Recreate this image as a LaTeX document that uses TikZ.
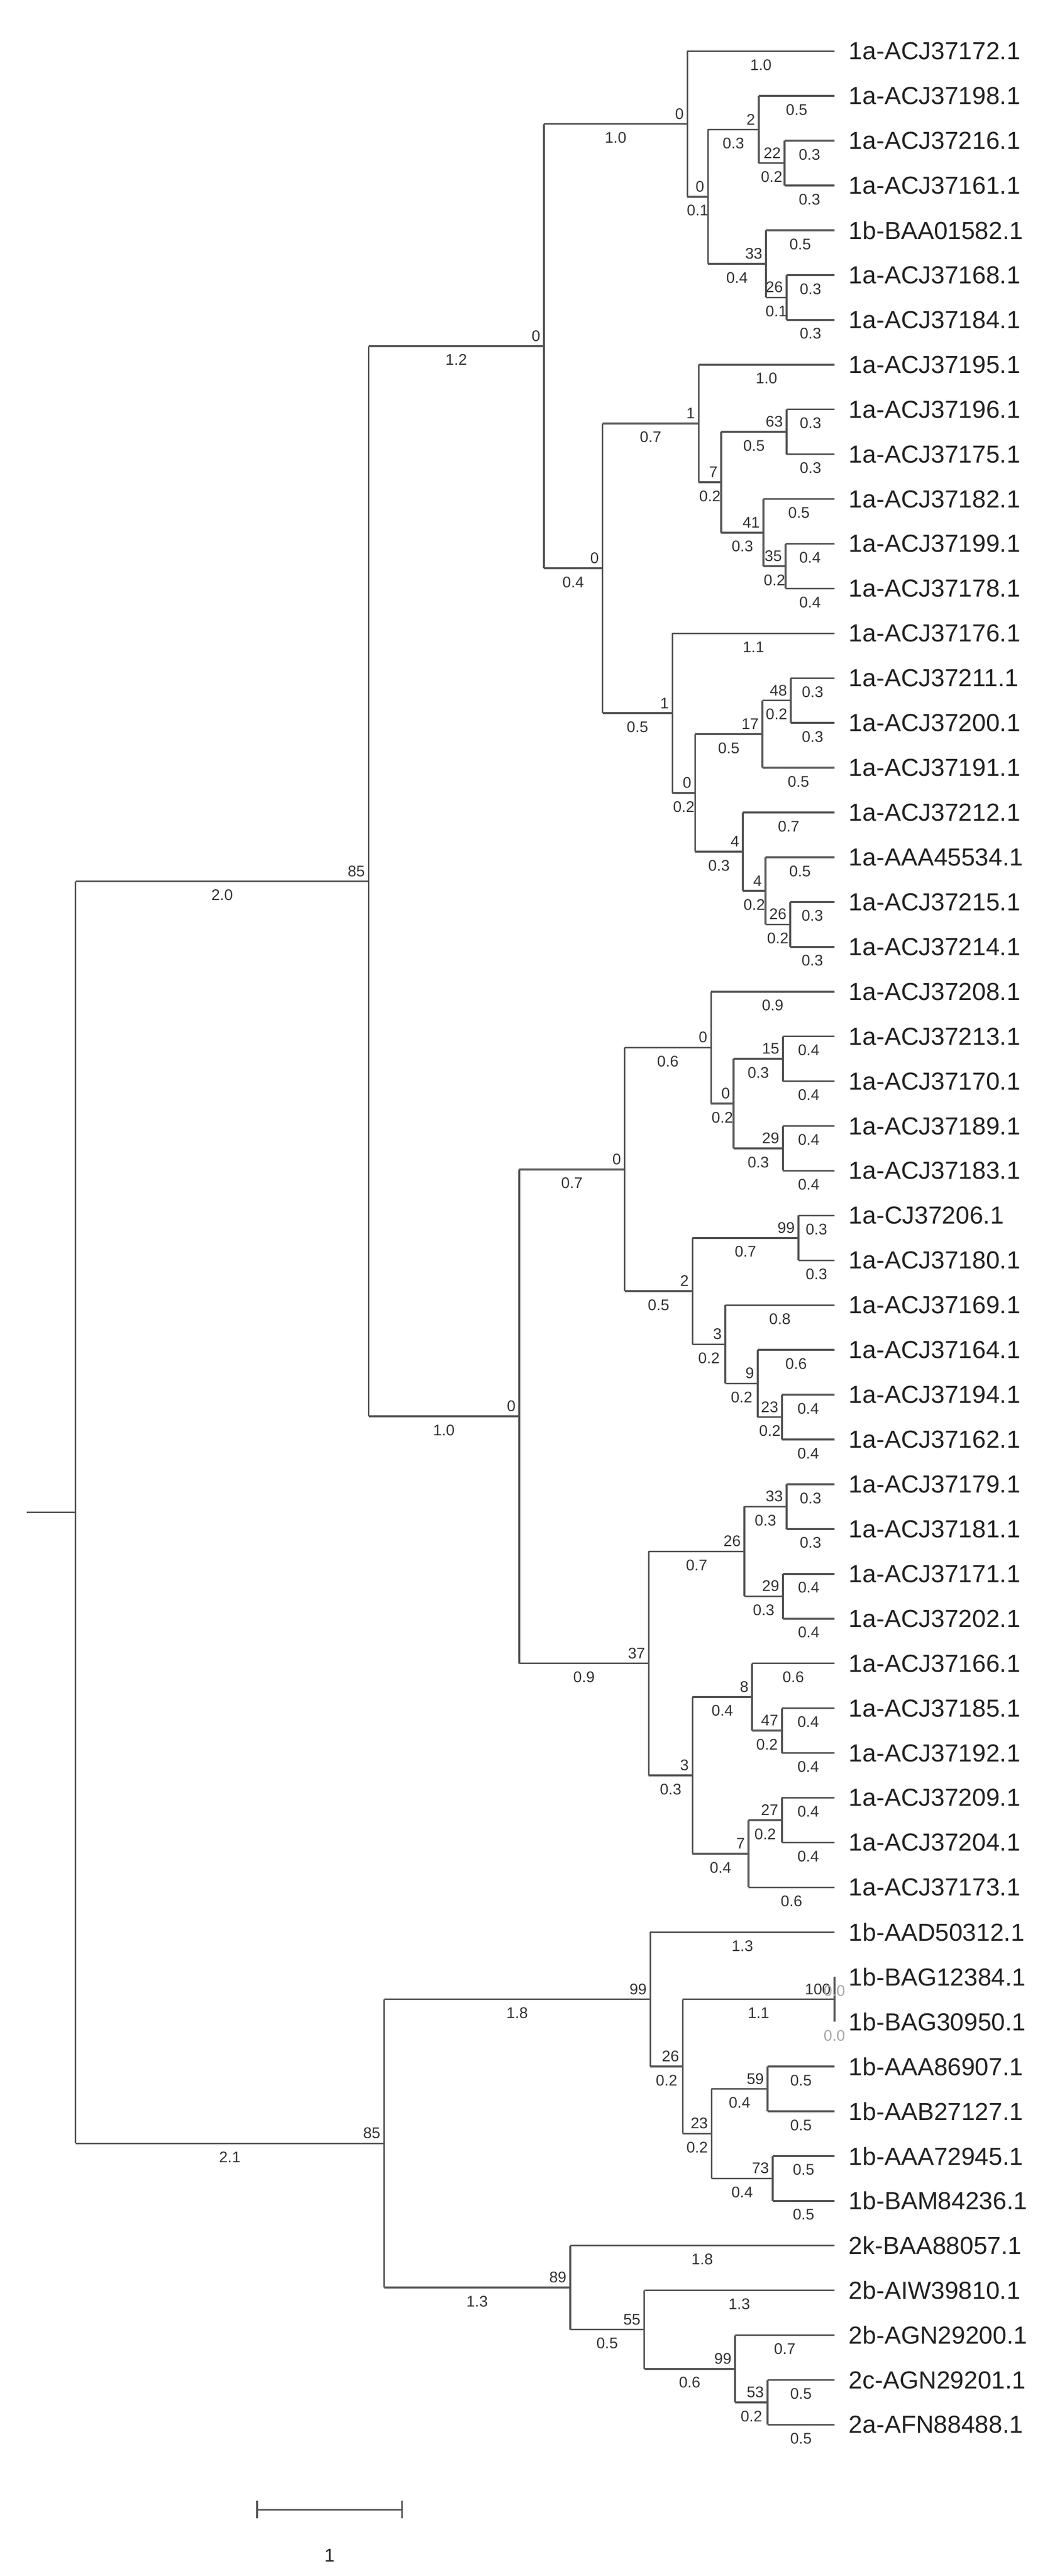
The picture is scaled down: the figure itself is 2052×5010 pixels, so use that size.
\documentclass[tikz,border=0pt]{standalone}
\usepackage{fontspec}
\setmainfont{Liberation Sans}
\usetikzlibrary{calc}
\definecolor{ln}{HTML}{555555}
\definecolor{tx}{HTML}{222222}
\definecolor{nm}{HTML}{333333}
\tikzset{
  br/.style={draw=ln,line width=3.5pt},
  lbl/.style={font=\fontsize{48}{50}\selectfont,text=tx,inner sep=0pt,anchor=west},
  bsl/.style={font=\fontsize{30}{32}\selectfont,text=nm,inner sep=0pt,anchor=south east},
  lenl/.style={font=\fontsize{30}{32}\selectfont,text=nm,inner sep=0pt,anchor=north},
  grayl/.style={lenl,text=gray!70}
}
\newcommand{\leafnode}[2]{\coordinate (L#1) at (1623pt,{-(99.5+87.1*(#1-1))*1pt});
  \node[lbl] (T#1) at ([xshift=28pt]L#1) {#2};}
\newcommand{\inode}[4]{\path let \p1=(#3), \p2=(#4) in coordinate (#1) at (#2pt,{0.5*\y1+0.5*\y2});
  \draw[br] (#1|-#3) -- (#1|-#4);}
\newcommand{\brn}[5][lenl]{\draw[br] (#2|-#3) -- (#3);
  \node[bsl] at ([xshift=-7pt,yshift=9pt]#3) {#4};
  \path (#2|-#3) -- (#3) node[midway,yshift=-16pt,#1] {#5};}
\begin{document}
\begin{tikzpicture}[x=1pt,y=1pt]
\useasboundingbox (0,0) rectangle (2052,-5010);
\leafnode{1}{1a-ACJ37172.1}
\leafnode{2}{1a-ACJ37198.1}
\leafnode{3}{1a-ACJ37216.1}
\leafnode{4}{1a-ACJ37161.1}
\leafnode{5}{1b-BAA01582.1}
\leafnode{6}{1a-ACJ37168.1}
\leafnode{7}{1a-ACJ37184.1}
\leafnode{8}{1a-ACJ37195.1}
\leafnode{9}{1a-ACJ37196.1}
\leafnode{10}{1a-ACJ37175.1}
\leafnode{11}{1a-ACJ37182.1}
\leafnode{12}{1a-ACJ37199.1}
\leafnode{13}{1a-ACJ37178.1}
\leafnode{14}{1a-ACJ37176.1}
\leafnode{15}{1a-ACJ37211.1}
\leafnode{16}{1a-ACJ37200.1}
\leafnode{17}{1a-ACJ37191.1}
\leafnode{18}{1a-ACJ37212.1}
\leafnode{19}{1a-AAA45534.1}
\leafnode{20}{1a-ACJ37215.1}
\leafnode{21}{1a-ACJ37214.1}
\leafnode{22}{1a-ACJ37208.1}
\leafnode{23}{1a-ACJ37213.1}
\leafnode{24}{1a-ACJ37170.1}
\leafnode{25}{1a-ACJ37189.1}
\leafnode{26}{1a-ACJ37183.1}
\leafnode{27}{1a-CJ37206.1}
\leafnode{28}{1a-ACJ37180.1}
\leafnode{29}{1a-ACJ37169.1}
\leafnode{30}{1a-ACJ37164.1}
\leafnode{31}{1a-ACJ37194.1}
\leafnode{32}{1a-ACJ37162.1}
\leafnode{33}{1a-ACJ37179.1}
\leafnode{34}{1a-ACJ37181.1}
\leafnode{35}{1a-ACJ37171.1}
\leafnode{36}{1a-ACJ37202.1}
\leafnode{37}{1a-ACJ37166.1}
\leafnode{38}{1a-ACJ37185.1}
\leafnode{39}{1a-ACJ37192.1}
\leafnode{40}{1a-ACJ37209.1}
\leafnode{41}{1a-ACJ37204.1}
\leafnode{42}{1a-ACJ37173.1}
\leafnode{43}{1b-AAD50312.1}
\leafnode{44}{1b-BAG12384.1}
\leafnode{45}{1b-BAG30950.1}
\leafnode{46}{1b-AAA86907.1}
\leafnode{47}{1b-AAB27127.1}
\leafnode{48}{1b-AAA72945.1}
\leafnode{49}{1b-BAM84236.1}
\leafnode{50}{2k-BAA88057.1}
\leafnode{51}{2b-AIW39810.1}
\leafnode{52}{2b-AGN29200.1}
\leafnode{53}{2c-AGN29201.1}
\leafnode{54}{2a-AFN88488.1}
% internal nodes
\inode{n1a}{1526}{L3}{L4}
\inode{n1}{1476}{L2}{n1a}
\inode{n2a}{1530}{L6}{L7}
\inode{n2}{1490}{L5}{n2a}
\inode{n}{1377}{n1}{n2}
\inode{A11}{1337}{L1}{n}
\inode{c1a}{1530}{L9}{L10}
\inode{c1c}{1528}{L12}{L13}
\inode{c1b}{1485}{L11}{c1c}
\inode{c1}{1403}{c1a}{c1b}
\inode{C1}{1359}{L8}{c1}
\inode{c2b}{1538}{L15}{L16}
\inode{c2a}{1483}{c2b}{L17}
\inode{c2e}{1537}{L20}{L21}
\inode{c2d}{1489}{L19}{c2e}
\inode{c2c}{1445}{L18}{c2d}
\inode{c2}{1352}{c2a}{c2c}
\inode{C2}{1308}{L14}{c2}
\inode{A12}{1172}{C1}{C2}
\inode{A1}{1058}{A11}{A12}
\inode{d1b}{1523}{L23}{L24}
\inode{d1c}{1523}{L25}{L26}
\inode{d1a}{1427}{d1b}{d1c}
\inode{d1}{1383}{L22}{d1a}
\inode{d2a}{1553}{L27}{L28}
\inode{d2d}{1521}{L31}{L32}
\inode{d2c}{1474}{L30}{d2d}
\inode{d2b}{1411}{L29}{d2c}
\inode{d2}{1347}{d2a}{d2b}
\inode{D1}{1215}{d1}{d2}
\inode{e1a}{1530}{L33}{L34}
\inode{e1b}{1523}{L35}{L36}
\inode{e1}{1448}{e1a}{e1b}
\inode{e2b}{1521}{L38}{L39}
\inode{e2a}{1463}{L37}{e2b}
\inode{e2d}{1521}{L40}{L41}
\inode{e2c}{1456}{e2d}{L42}
\inode{e2}{1347}{e2a}{e2c}
\inode{D2}{1262}{e1}{e2}
\inode{A2}{1010}{D1}{D2}
\inode{A}{717}{A1}{A2}
\inode{f1a}{1623}{L44}{L45}
\inode{f1c}{1493}{L46}{L47}
\inode{f1d}{1503}{L48}{L49}
\inode{f1b}{1384}{f1c}{f1d}
\inode{f1}{1328}{f1a}{f1b}
\inode{F1}{1265}{L43}{f1}
\inode{g3}{1493}{L53}{L54}
\inode{g2}{1430}{L52}{g3}
\inode{g1}{1253}{L51}{g2}
\inode{F2}{1109}{L50}{g1}
\inode{B}{747}{F1}{F2}
\inode{R}{147}{A}{B}
\coordinate (stub) at (52,0);
\draw[br] (stub|-R) -- (R);
% branches
\brn{R}{A}{85}{2.0}
\brn{R}{B}{85}{2.1}
\brn{A}{A1}{0}{1.2}
\brn{A}{A2}{0}{1.0}
\brn{A1}{A11}{0}{1.0}
\brn{A1}{A12}{0}{0.4}
\brn{A11}{L1}{}{1.0}
\brn{A11}{n}{0}{0.1}
\brn{n}{n1}{2}{0.3}
\brn{n}{n2}{33}{0.4}
\brn{n1}{L2}{}{0.5}
\brn{n1}{n1a}{22}{0.2}
\brn{n1a}{L3}{}{0.3}
\brn{n1a}{L4}{}{0.3}
\brn{n2}{L5}{}{0.5}
\brn{n2}{n2a}{26}{0.1}
\brn{n2a}{L6}{}{0.3}
\brn{n2a}{L7}{}{0.3}
\brn{A12}{C1}{1}{0.7}
\brn{A12}{C2}{1}{0.5}
\brn{C1}{L8}{}{1.0}
\brn{C1}{c1}{7}{0.2}
\brn{c1}{c1a}{63}{0.5}
\brn{c1}{c1b}{41}{0.3}
\brn{c1a}{L9}{}{0.3}
\brn{c1a}{L10}{}{0.3}
\brn{c1b}{L11}{}{0.5}
\brn{c1b}{c1c}{35}{0.2}
\brn{c1c}{L12}{}{0.4}
\brn{c1c}{L13}{}{0.4}
\brn{C2}{L14}{}{1.1}
\brn{C2}{c2}{0}{0.2}
\brn{c2}{c2a}{17}{0.5}
\brn{c2}{c2c}{4}{0.3}
\brn{c2a}{c2b}{48}{0.2}
\brn{c2a}{L17}{}{0.5}
\brn{c2b}{L15}{}{0.3}
\brn{c2b}{L16}{}{0.3}
\brn{c2c}{L18}{}{0.7}
\brn{c2c}{c2d}{4}{0.2}
\brn{c2d}{L19}{}{0.5}
\brn{c2d}{c2e}{26}{0.2}
\brn{c2e}{L20}{}{0.3}
\brn{c2e}{L21}{}{0.3}
\brn{A2}{D1}{0}{0.7}
\brn{A2}{D2}{37}{0.9}
\brn{D1}{d1}{0}{0.6}
\brn{D1}{d2}{2}{0.5}
\brn{d1}{L22}{}{0.9}
\brn{d1}{d1a}{0}{0.2}
\brn{d1a}{d1b}{15}{0.3}
\brn{d1a}{d1c}{29}{0.3}
\brn{d1b}{L23}{}{0.4}
\brn{d1b}{L24}{}{0.4}
\brn{d1c}{L25}{}{0.4}
\brn{d1c}{L26}{}{0.4}
\brn{d2}{d2a}{99}{0.7}
\brn{d2}{d2b}{3}{0.2}
\brn{d2a}{L27}{}{0.3}
\brn{d2a}{L28}{}{0.3}
\brn{d2b}{L29}{}{0.8}
\brn{d2b}{d2c}{9}{0.2}
\brn{d2c}{L30}{}{0.6}
\brn{d2c}{d2d}{23}{0.2}
\brn{d2d}{L31}{}{0.4}
\brn{d2d}{L32}{}{0.4}
\brn{D2}{e1}{26}{0.7}
\brn{D2}{e2}{3}{0.3}
\brn{e1}{e1a}{33}{0.3}
\brn{e1}{e1b}{29}{0.3}
\brn{e1a}{L33}{}{0.3}
\brn{e1a}{L34}{}{0.3}
\brn{e1b}{L35}{}{0.4}
\brn{e1b}{L36}{}{0.4}
\brn{e2}{e2a}{8}{0.4}
\brn{e2}{e2c}{7}{0.4}
\brn{e2a}{L37}{}{0.6}
\brn{e2a}{e2b}{47}{0.2}
\brn{e2b}{L38}{}{0.4}
\brn{e2b}{L39}{}{0.4}
\brn{e2c}{e2d}{27}{0.2}
\brn{e2c}{L42}{}{0.6}
\brn{e2d}{L40}{}{0.4}
\brn{e2d}{L41}{}{0.4}
\brn{B}{F1}{99}{1.8}
\brn{B}{F2}{89}{1.3}
\brn{F1}{L43}{}{1.3}
\brn{F1}{f1}{26}{0.2}
\brn{f1}{f1a}{100}{1.1}
\brn{f1}{f1b}{23}{0.2}
\brn[grayl]{f1a}{L44}{}{0.0}
\brn[grayl]{f1a}{L45}{}{0.0}
\brn{f1b}{f1c}{59}{0.4}
\brn{f1b}{f1d}{73}{0.4}
\brn{f1c}{L46}{}{0.5}
\brn{f1c}{L47}{}{0.5}
\brn{f1d}{L48}{}{0.5}
\brn{f1d}{L49}{}{0.5}
\brn{F2}{L50}{}{1.8}
\brn{F2}{g1}{55}{0.5}
\brn{g1}{L51}{}{1.3}
\brn{g1}{g2}{99}{0.6}
\brn{g2}{L52}{}{0.7}
\brn{g2}{g3}{53}{0.2}
\brn{g3}{L53}{}{0.5}
\brn{g3}{L54}{}{0.5}
% scale bar
\coordinate (s1) at (500,-4881);
\coordinate (s2) at (782,-4881);
\draw[br] (s1) -- (s2);
\draw[br] ([yshift=17pt]s1) -- ([yshift=-17pt]s1);
\draw[br] ([yshift=17pt]s2) -- ([yshift=-17pt]s2);
\node[font=\fontsize{36}{38}\selectfont,text=tx] (sl) at (641,-4970) {1};
\end{tikzpicture}
\end{document}
